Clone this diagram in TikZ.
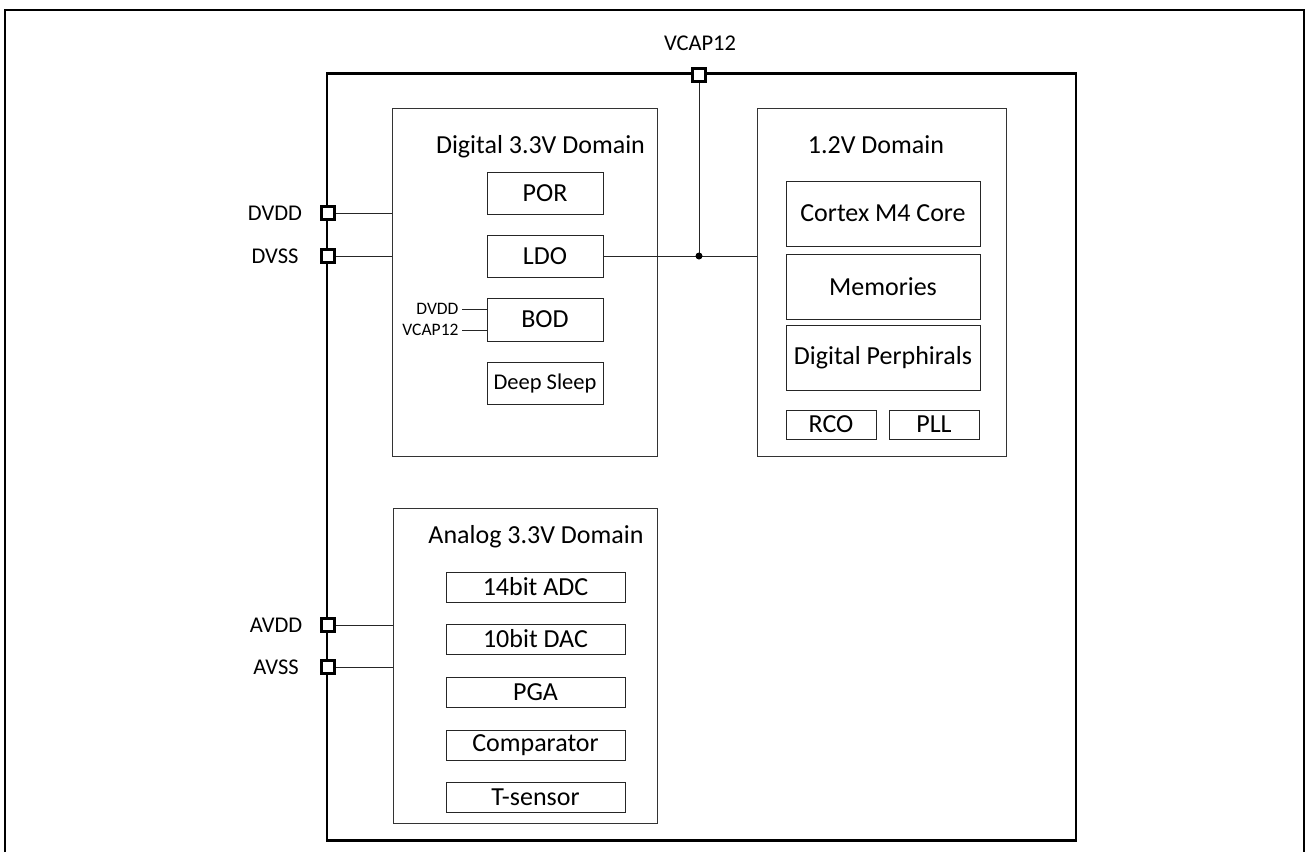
\documentclass[tikz,border=0pt]{standalone}
\usepackage{fontspec}
\setmainfont{Carlito}
\newcommand{\bigfont}{\fontsize{26}{30}\selectfont}
\newcommand{\pinfont}{\fontsize{22.5}{26}\selectfont}
\newcommand{\smallpinfont}{\fontsize{17.5}{20}\selectfont}
\tikzset{
  domainbox/.style={draw=black!80,line width=1pt,inner sep=0pt},
  block/.style={draw=black!85,line width=1pt,inner sep=0pt,font=\bigfont},
  pad/.style={draw,line width=3pt,fill=white,minimum size=13.5pt,inner sep=0pt},
  wire/.style={draw=black!85,line width=0.9pt},
}
\begin{document}
\begin{tikzpicture}[x=1pt,y=-1pt]
  \useasboundingbox (0,0) rectangle (1309,852);
  % page frame
  \draw[line width=2pt] (5,852) -- (5,10) -- (1304,10) -- (1304,852);
  % chip outline
  \node[draw,line width=2.6pt,inner sep=0pt,minimum width=749pt,minimum height=767pt] (chip) at (701.5,457) {};

  % domains
  \node[domainbox,minimum width=265pt,minimum height=348pt] (dig) at (524.5,282) {};
  \node[domainbox,minimum width=249pt,minimum height=348pt] (core) at (881.5,282) {};
  \node[domainbox,minimum width=264pt,minimum height=315pt] (ana) at (525,665.5) {};
  \node[font=\bigfont,anchor=base] (digtitle) at (540.5,153) {Digital 3.3V Domain};
  \node[font=\bigfont,anchor=base] (coretitle) at (876,153) {1.2V Domain};
  \node[font=\bigfont,anchor=base] (anatitle) at (536,543) {Analog 3.3V Domain};

  % digital 3.3V blocks
  \node[block,minimum width=116pt,minimum height=42pt] (por) at (545,193) {POR};
  \node[block,minimum width=116pt,minimum height=42pt] (ldo) at (545,256) {LDO};
  \node[block,minimum width=116pt,minimum height=43pt] (bod) at (545,319.5) {BOD};
  \node[block,minimum width=116pt,minimum height=42pt,font=\pinfont] (sleep) at (545,383) {Deep Sleep};

  % 1.2V blocks
  \node[block,minimum width=194pt,minimum height=65pt] (cpu) at (883,213.5) {Cortex M4 Core};
  \node[block,minimum width=194pt,minimum height=65pt] (mem) at (883,286.5) {Memories};
  \node[block,minimum width=194pt,minimum height=65pt] (periph) at (883,357.5) {Digital Perphirals};
  \node[block,minimum width=90pt,minimum height=29pt] (rco) at (831,424.5) {RCO};
  \node[block,minimum width=90pt,minimum height=29pt] (pll) at (934,424.5) {PLL};

  % analog blocks
  \node[block,minimum width=179pt,minimum height=30pt] (adc) at (535.5,587) {14bit ADC};
  \node[block,minimum width=179pt,minimum height=30pt] (dac) at (535.5,639) {10bit DAC};
  \node[block,minimum width=179pt,minimum height=30pt] (pga) at (535.5,692) {PGA};
  \node[block,minimum width=179pt,minimum height=30pt] (comp) at (535.5,745.5) {Comparator};
  \node[block,minimum width=179pt,minimum height=30pt] (tsens) at (535.5,797) {T-sensor};

  % pads
  \node[pad] (vcap) at (699,75) {};
  \node[pad] (dvdd) at (328,213) {};
  \node[pad] (dvss) at (328,256) {};
  \node[pad] (avdd) at (328,625) {};
  \node[pad] (avss) at (328,667) {};
  \node[font=\pinfont] (vcaplbl) at (700,43) {VCAP12};
  \node[font=\pinfont] (dvddlbl) at (275,213) {DVDD};
  \node[font=\pinfont] (dvsslbl) at (275,256) {DVSS};
  \node[font=\pinfont] (avddlbl) at (276,625) {AVDD};
  \node[font=\pinfont] (avsslbl) at (276,667) {AVSS};

  % supply wires
  \draw[wire] (dvdd.east) -- (dvdd.east -| dig.west);
  \draw[wire] (dvss.east) -- (dvss.east -| dig.west);
  \draw[wire] (avdd.east) -- (avdd.east -| ana.west);
  \draw[wire] (avss.east) -- (avss.east -| ana.west);
  \coordinate (jn) at (vcap |- ldo.east);
  \draw[wire] (ldo.east) -- (ldo.east -| core.west);
  \draw[wire] (vcap.south) -- (jn);
  \fill (jn) circle (3.5pt);

  % BOD inputs
  \coordinate (bodin1) at (462,309);
  \coordinate (bodin2) at (462,330);
  \draw[wire] (bodin1) -- (bodin1 -| bod.west);
  \draw[wire] (bodin2) -- (bodin2 -| bod.west);
  \node[font=\smallpinfont,anchor=east] (boddvdd) at (bodin1) {DVDD};
  \node[font=\smallpinfont,anchor=east] (bodvcap) at (bodin2) {VCAP12};
\end{tikzpicture}
\end{document}
